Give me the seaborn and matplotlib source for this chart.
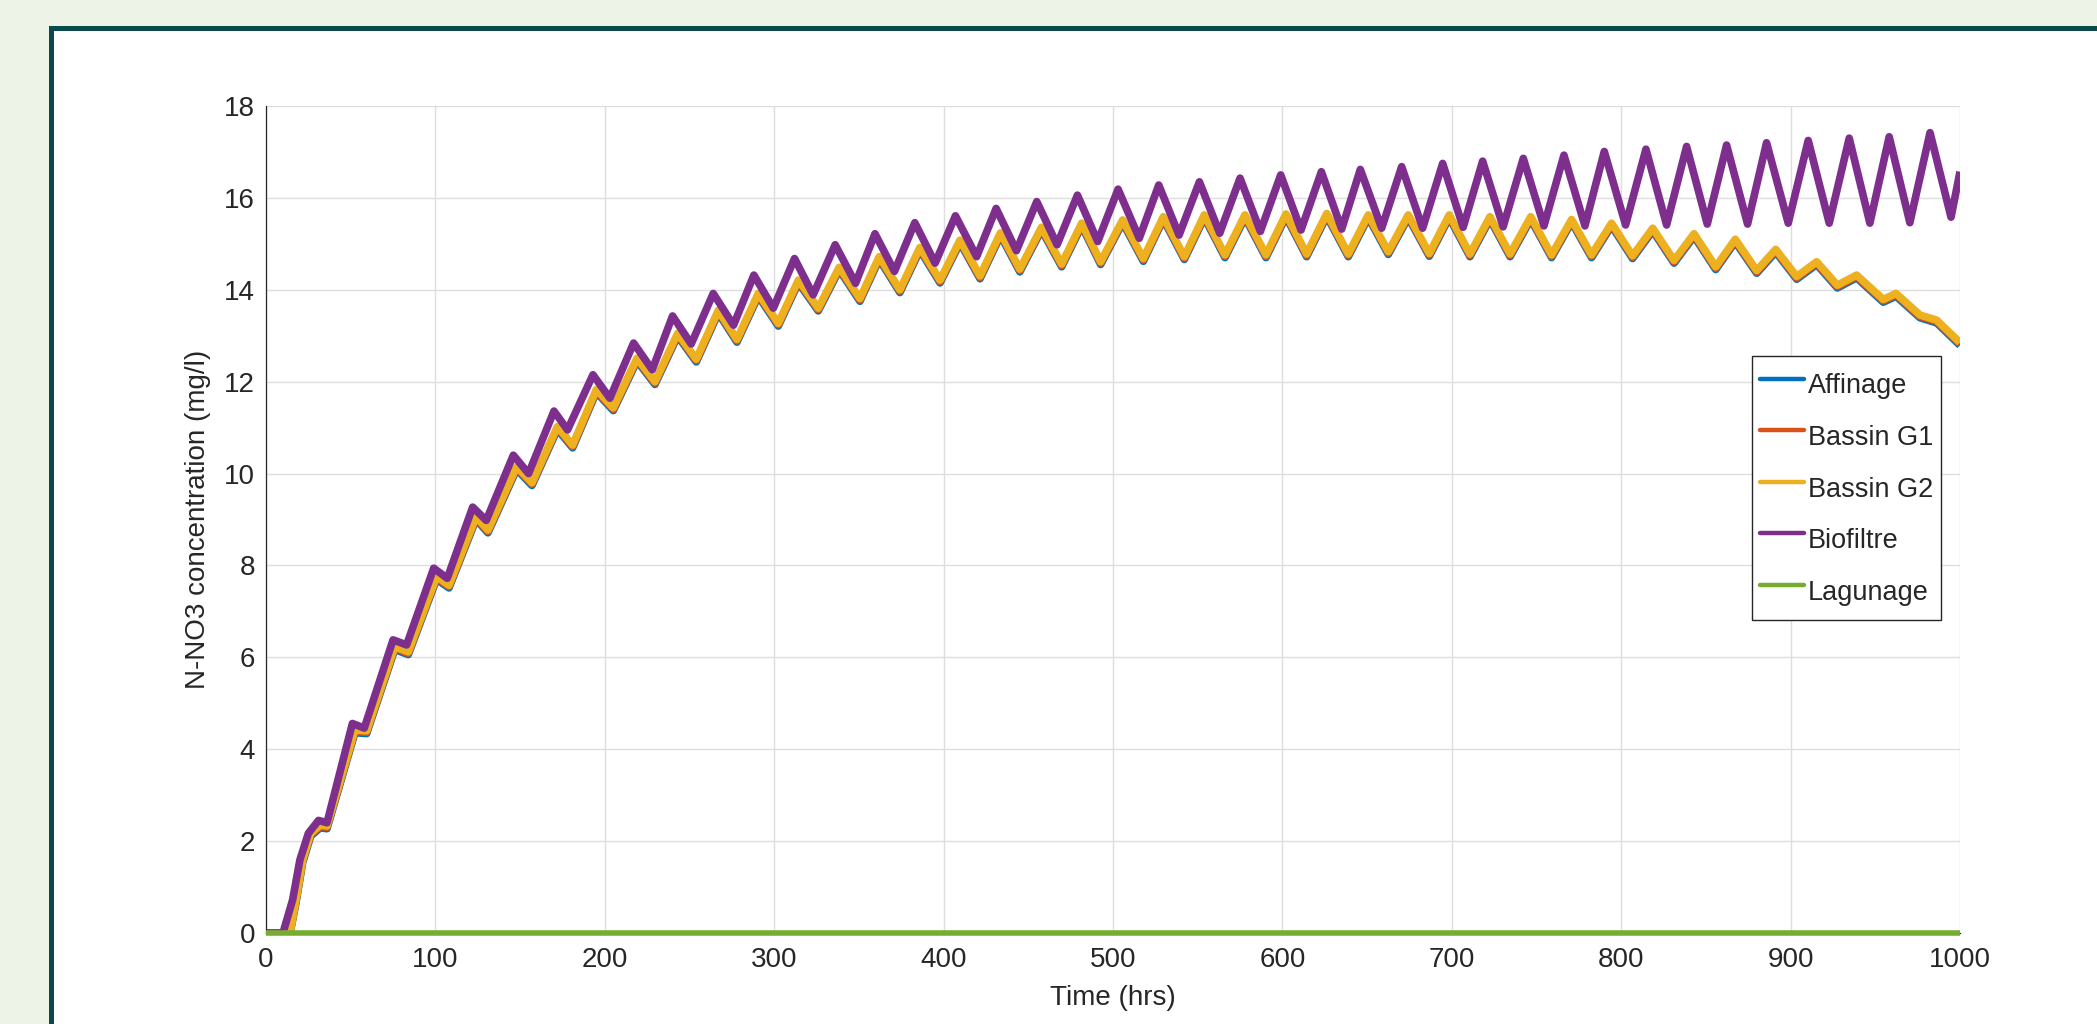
import pandas as pd
import matplotlib
matplotlib.use("Agg")
import matplotlib.pyplot as plt
from matplotlib.lines import Line2D
from matplotlib.patches import Rectangle
import seaborn as sns

OUT_PATH = "out.png"

SERIES_NAMES = ["Affinage", "Bassin G1", "Bassin G2", "Biofiltre", "Lagunage"]
SERIES_COLORS = ["#0072BD", "#D95319", "#EDB120", "#7E2F8E", "#77AC30"]

# Biofiltre: peaks / troughs (hrs, mg/l)
biofiltre_time = [
    0, 10, 15.7, 20, 25, 31, 36, 51, 58, 75, 83, 99, 107, 122, 130, 146, 155,
    170, 178, 193, 203, 217, 228, 240, 251, 264, 276, 288, 299.5, 312, 323,
    336, 348, 359.5, 371, 383, 395, 407, 419.5, 431, 443, 455, 467, 479, 491,
    503, 515.5, 527, 539, 551, 563, 575, 587, 599, 611, 623, 635, 646, 658.6,
    670.4, 682.8, 694.6, 706.7, 718.2, 730.3, 742.2, 754.4, 766.2, 778.6, 790,
    802.6, 814.6, 826.8, 838.6, 850.8, 862.2, 874.6, 885.8, 898.6, 910.4,
    922.8, 934.6, 946.8, 958.2, 970.4, 982.3, 994.7, 1000,
]
biofiltre = [
    0, 0, 0.72, 1.59, 2.17, 2.45, 2.40, 4.56, 4.46, 6.38, 6.27, 7.94, 7.72,
    9.27, 8.98, 10.40, 10.00, 11.36, 10.95, 12.15, 11.64, 12.84, 12.26, 13.43,
    12.82, 13.92, 13.23, 14.32, 13.60, 14.68, 13.89, 14.98, 14.14, 15.22,
    14.40, 15.46, 14.58, 15.61, 14.72, 15.77, 14.85, 15.92, 14.98, 16.06,
    15.05, 16.19, 15.12, 16.28, 15.19, 16.35, 15.23, 16.43, 15.27, 16.50,
    15.30, 16.57, 15.32, 16.62, 15.34, 16.68, 15.34, 16.75, 15.36, 16.80,
    15.37, 16.86, 15.39, 16.93, 15.39, 17.01, 15.41, 17.06, 15.41, 17.12,
    15.43, 17.15, 15.43, 17.20, 15.45, 17.25, 15.45, 17.30, 15.45, 17.33,
    15.46, 17.42, 15.58, 16.57,
]

# Affinage / Bassin G1 / Bassin G2 share the same peak / trough times
bassin_time = [
    0, 14.2, 17.7, 21.6, 26.4, 32, 36, 52.5, 59.4, 76, 84, 100.7, 108, 124,
    131, 148, 157, 172, 181, 195, 205, 219, 229.6, 243, 254, 267, 278, 290.6,
    302.4, 314.3, 326, 338.4, 350.6, 362, 374.2, 386, 397.9, 409.7, 421.5,
    433.6, 445, 457.8, 469.7, 481.5, 492.7, 505.7, 517.9, 529.7, 542.1, 553.9,
    566.1, 577.9, 590.3, 602.1, 614.3, 626.2, 638.9, 650.7, 662.5, 674.3,
    686.7, 698.5, 710.7, 722.5, 734.4, 746.6, 758.9, 770.7, 782.5, 794.3,
    806.7, 818.6, 831.2, 843, 855.8, 867.3, 880, 891.2, 903.6, 915.4, 927.6,
    939, 954.7, 962.2, 976.4, 986.2, 1000,
]
bassin_g2 = [
    0, 0, 0.72, 1.59, 2.17, 2.35, 2.33, 4.42, 4.40, 6.23, 6.12, 7.76, 7.57,
    9.06, 8.77, 10.15, 9.80, 11.02, 10.62, 11.83, 11.43, 12.51, 12.00, 13.05,
    12.49, 13.55, 12.92, 13.92, 13.27, 14.21, 13.60, 14.49, 13.81, 14.72,
    14.00, 14.92, 14.21, 15.08, 14.30, 15.24, 14.45, 15.36, 14.56, 15.45,
    14.61, 15.52, 14.68, 15.59, 14.72, 15.63, 14.76, 15.63, 14.76, 15.65,
    14.78, 15.66, 14.78, 15.63, 14.83, 15.63, 14.79, 15.63, 14.78, 15.59,
    14.78, 15.59, 14.76, 15.53, 14.76, 15.45, 14.74, 15.34, 14.64, 15.22,
    14.50, 15.10, 14.42, 14.88, 14.29, 14.61, 14.10, 14.32, 13.79, 13.92,
    13.45, 13.34, 12.85,
]
bassin_g1 = [
    0, 0, 0.69, 1.56, 2.14, 2.32, 2.30, 4.39, 4.37, 6.20, 6.09, 7.73, 7.54,
    9.03, 8.74, 10.12, 9.77, 10.99, 10.59, 11.80, 11.40, 12.48, 11.97, 13.02,
    12.46, 13.52, 12.89, 13.89, 13.24, 14.18, 13.57, 14.46, 13.78, 14.69,
    13.97, 14.89, 14.18, 15.05, 14.27, 15.21, 14.42, 15.33, 14.53, 15.42,
    14.58, 15.49, 14.65, 15.56, 14.69, 15.60, 14.73, 15.60, 14.73, 15.62,
    14.75, 15.63, 14.75, 15.60, 14.80, 15.60, 14.76, 15.60, 14.75, 15.56,
    14.75, 15.56, 14.73, 15.50, 14.73, 15.42, 14.71, 15.31, 14.61, 15.19,
    14.47, 15.07, 14.39, 14.85, 14.26, 14.58, 14.07, 14.29, 13.76, 13.89,
    13.42, 13.31, 12.82,
]
affinage = [
    0, 0, 0.66, 1.53, 2.11, 2.29, 2.27, 4.36, 4.34, 6.17, 6.06, 7.70, 7.51,
    9.00, 8.71, 10.09, 9.74, 10.96, 10.56, 11.77, 11.37, 12.45, 11.94, 12.99,
    12.43, 13.49, 12.86, 13.86, 13.21, 14.15, 13.54, 14.43, 13.75, 14.66,
    13.94, 14.86, 14.15, 15.02, 14.24, 15.18, 14.39, 15.30, 14.50, 15.39,
    14.55, 15.46, 14.62, 15.53, 14.66, 15.57, 14.70, 15.57, 14.70, 15.59,
    14.72, 15.60, 14.72, 15.57, 14.77, 15.57, 14.73, 15.57, 14.72, 15.53,
    14.72, 15.53, 14.70, 15.47, 14.70, 15.39, 14.68, 15.28, 14.58, 15.16,
    14.44, 15.04, 14.36, 14.82, 14.23, 14.55, 14.04, 14.26, 13.73, 13.86,
    13.39, 13.28, 12.79,
]

lagunage_time = [0, 1000]
lagunage = [0, 0]

X_TICKS = list(range(0, 1001, 100))
Y_TICKS = list(range(0, 19, 2))

AXIS_COLOR = "#262626"


def setup_style():
    """MATLAB-like look"""
    sns.set_style("white")
    plt.rcParams['font.family'] = ['Liberation Sans', 'DejaVu Sans']
    plt.rcParams['font.size'] = 20


def build_frame():
    parts = [
        pd.DataFrame({'time': bassin_time, 'value': affinage, 'series': 'Affinage'}),
        pd.DataFrame({'time': bassin_time, 'value': bassin_g1, 'series': 'Bassin G1'}),
        pd.DataFrame({'time': bassin_time, 'value': bassin_g2, 'series': 'Bassin G2'}),
        pd.DataFrame({'time': biofiltre_time, 'value': biofiltre, 'series': 'Biofiltre'}),
        pd.DataFrame({'time': lagunage_time, 'value': lagunage, 'series': 'Lagunage'}),
    ]
    return pd.concat(parts, ignore_index=True)


def plot_concentration(df):
    fig = plt.figure(figsize=(20.97, 10.24), dpi=100)
    fig.patch.set_facecolor('#edf3e6')

    # white card with dark teal border
    frame = Rectangle((0.0242, -0.05), 1.1, 1.0231, transform=fig.transFigure,
                      facecolor='white', edgecolor='#0b4a4c', linewidth=3.6, zorder=-1)
    fig.add_artist(frame)

    ax = fig.add_axes([0.12685, 0.08887, 0.80782, 0.80762])
    ax.set_facecolor('white')

    sns.lineplot(data=df, x='time', y='value', hue='series',
                 hue_order=SERIES_NAMES, palette=SERIES_COLORS,
                 estimator=None, sort=False, linewidth=5.5, legend=False, ax=ax)

    for line in ax.lines:
        line.set_solid_joinstyle('round')
        line.set_solid_capstyle('butt')
    # Lagunage sits on y=0, drawn over the bottom axis line
    ax.lines[-1].set_linewidth(4.0)
    ax.lines[-1].set_clip_on(False)
    ax.lines[-1].set_zorder(3)

    ax.set_xlim(0, 1000)
    ax.set_ylim(0, 18)
    ax.set_xticks(X_TICKS)
    ax.set_yticks(Y_TICKS)

    ax.grid(True, color='#dedede', linewidth=1.0)
    ax.set_axisbelow(True)
    for side in ['top', 'right']:
        ax.spines[side].set_visible(False)
    for side in ['left', 'bottom']:
        ax.spines[side].set_color(AXIS_COLOR)
        ax.spines[side].set_linewidth(0.9)

    ax.tick_params(direction='in', length=12, width=0.9, color=AXIS_COLOR,
                   labelcolor=AXIS_COLOR, labelsize=20)
    ax.tick_params(axis='x', pad=10)
    ax.tick_params(axis='y', pad=8)

    ax.set_xlabel('Time (hrs)', fontsize=20, color=AXIS_COLOR)
    ax.set_ylabel('N-NO3 concentration (mg/l)', fontsize=20, color=AXIS_COLOR)
    ax.xaxis.set_label_coords(0.5, -0.063)
    ax.yaxis.set_label_coords(-0.0325, 0.5)

    handles = [Line2D([0], [0], color=c, linewidth=3.2) for c in SERIES_COLORS]
    leg = ax.legend(handles, SERIES_NAMES, loc='upper right',
                    bbox_to_anchor=(0.989, 0.698), borderaxespad=0,
                    fontsize=19.5, frameon=True, fancybox=False, framealpha=1,
                    handlelength=1.6, handleheight=2.0, handletextpad=0.16,
                    labelspacing=0.36, borderpad=0.3)
    leg.get_frame().set_edgecolor(AXIS_COLOR)
    leg.get_frame().set_linewidth(1.0)

    fig.savefig(OUT_PATH, dpi=100, facecolor=fig.get_facecolor())
    plt.close(fig)
    print("Saved:", OUT_PATH)


if __name__ == "__main__":
    setup_style()
    plot_concentration(build_frame())
